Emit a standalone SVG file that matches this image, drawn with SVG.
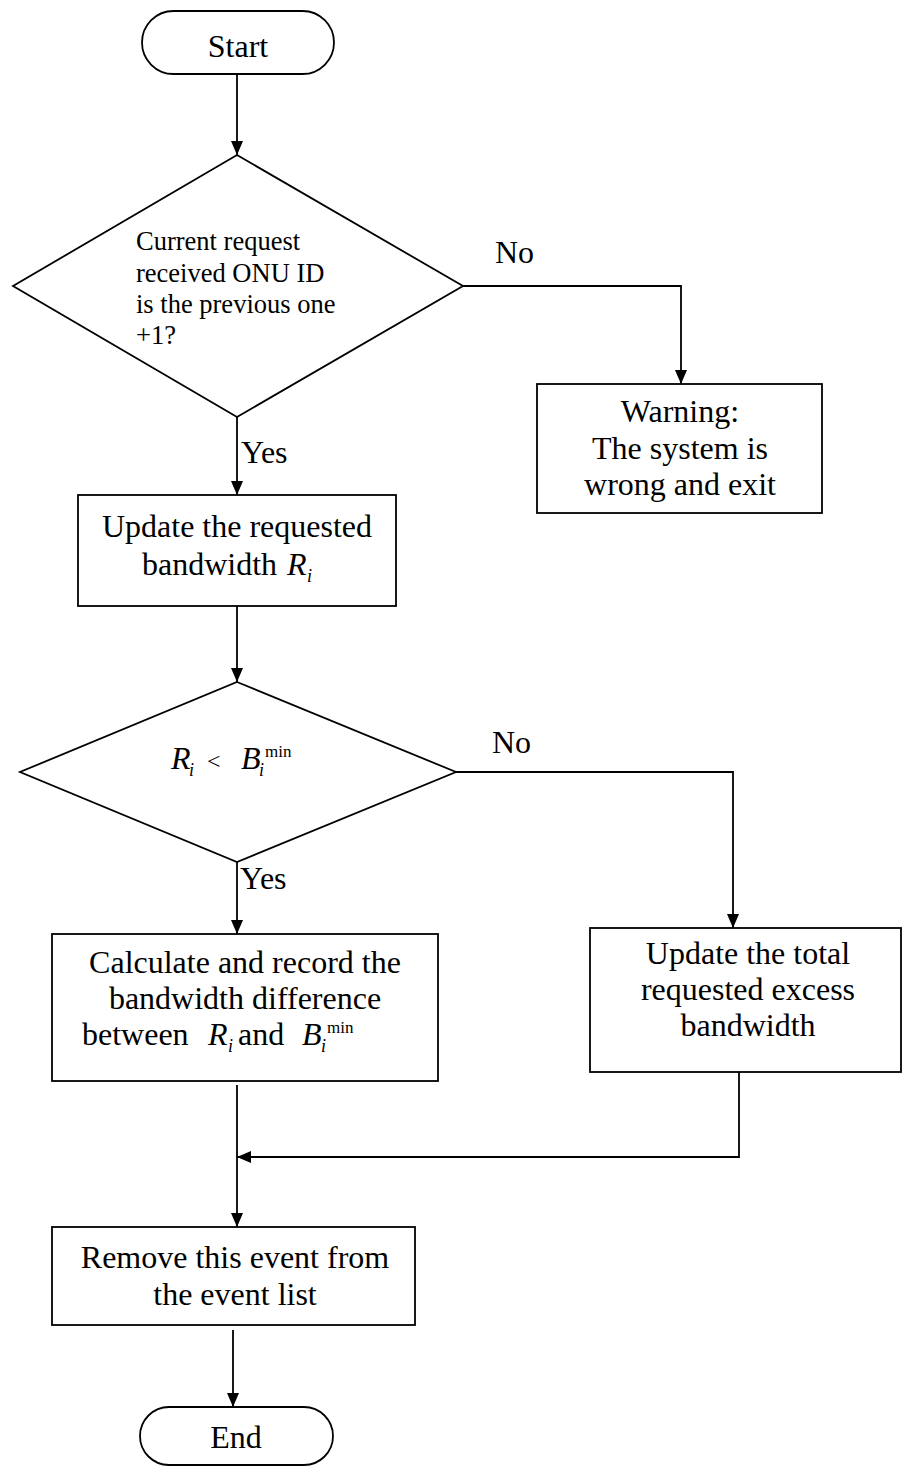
<svg xmlns="http://www.w3.org/2000/svg" width="902" height="1466" viewBox="0 0 902 1466">
<style>
.s{fill:#fff;stroke:#000;stroke-width:1.8}
.c{fill:none;stroke:#000;stroke-width:1.8}
text{font-family:"Liberation Serif","Times New Roman",serif;font-size:32px;fill:#000}
.m{text-anchor:middle}
.q{font-size:26.5px}
.it{font-style:italic}
.sub{font-size:18px;font-style:italic}
.sup{font-size:17px}
</style>
<defs>
<marker id="ah" viewBox="0 0 14 12" refX="14" refY="6" markerWidth="14" markerHeight="12" markerUnits="userSpaceOnUse" orient="auto">
<path d="M0,0 L14,6 L0,12 z" fill="#000"/>
</marker>
</defs>
<rect width="902" height="1466" fill="#fff"/>
<g id="connectors">
<line class="c" x1="237" y1="74" x2="237" y2="155" marker-end="url(#ah)"/>
<polyline class="c" points="463,286 681,286 681,384" marker-end="url(#ah)"/>
<line class="c" x1="237" y1="417" x2="237" y2="495" marker-end="url(#ah)"/>
<line class="c" x1="237" y1="606" x2="237" y2="682" marker-end="url(#ah)"/>
<polyline class="c" points="456,772 733,772 733,928" marker-end="url(#ah)"/>
<line class="c" x1="237" y1="862" x2="237" y2="934" marker-end="url(#ah)"/>
<line class="c" x1="237" y1="1085" x2="237" y2="1227" marker-end="url(#ah)"/>
<polyline class="c" points="739,1072 739,1157 237,1157" marker-end="url(#ah)"/>
<line class="c" x1="233" y1="1330" x2="233" y2="1407" marker-end="url(#ah)"/>
<text x="495" y="263">No</text>
<text x="241" y="463">Yes</text>
<text x="492" y="753">No</text>
<text x="240" y="889">Yes</text>
</g>
<g id="start">
<rect class="s" x="142" y="11" width="192" height="63" rx="31.5"/>
<text class="m" x="238" y="57">Start</text>
</g>
<g id="decision1">
<polygon class="s" points="237,155 463,286 237,417 13,286"/>
<text class="q" x="136" y="250">Current request</text>
<text class="q" x="136" y="282">received ONU ID</text>
<text class="q" x="136" y="313">is the previous one</text>
<text class="q" x="136" y="344">+1?</text>
</g>
<g id="warning">
<rect class="s" x="537" y="384" width="285" height="129"/>
<text class="m" x="680" y="422">Warning:</text>
<text class="m" x="680" y="459">The system is</text>
<text class="m" x="680" y="495">wrong and exit</text>
</g>
<g id="update">
<rect class="s" x="78" y="495" width="318" height="111"/>
<text class="m" x="237" y="537">Update the requested</text>
<text x="142" y="575">bandwidth</text>
<text class="it" x="287" y="575">R</text>
<text class="sub" x="307" y="582">i</text>
</g>
<g id="decision2">
<polygon class="s" points="237,682 456,772 237,862 20,772"/>
<text class="it" x="171" y="769">R</text>
<text class="sub" x="189" y="776">i</text>
<text x="207" y="769" style="font-size:24px">&lt;</text>
<text class="it" x="241" y="769">B</text>
<text class="sub" x="259" y="776">i</text>
<text class="sup" x="265" y="757">min</text>
</g>
<g id="calculate">
<rect class="s" x="52" y="934" width="386" height="147"/>
<text class="m" x="245" y="973">Calculate and record the</text>
<text class="m" x="245" y="1009">bandwidth difference</text>
<text x="82" y="1045">between</text>
<text class="it" x="208" y="1045">R</text>
<text class="sub" x="228" y="1052">i</text>
<text x="238" y="1045">and</text>
<text class="it" x="302" y="1045">B</text>
<text class="sub" x="321" y="1052">i</text>
<text class="sup" x="327" y="1033">min</text>
</g>
<g id="excess">
<rect class="s" x="590" y="928" width="311" height="144"/>
<text class="m" x="748" y="964">Update the total</text>
<text class="m" x="748" y="1000">requested excess</text>
<text class="m" x="748" y="1036">bandwidth</text>
</g>
<g id="remove">
<rect class="s" x="52" y="1227" width="363" height="98"/>
<text class="m" x="235" y="1268">Remove this event from</text>
<text class="m" x="235" y="1305">the event list</text>
</g>
<g id="end">
<rect class="s" x="140" y="1407" width="193" height="58" rx="29"/>
<text class="m" x="236" y="1448">End</text>
</g>
</svg>
